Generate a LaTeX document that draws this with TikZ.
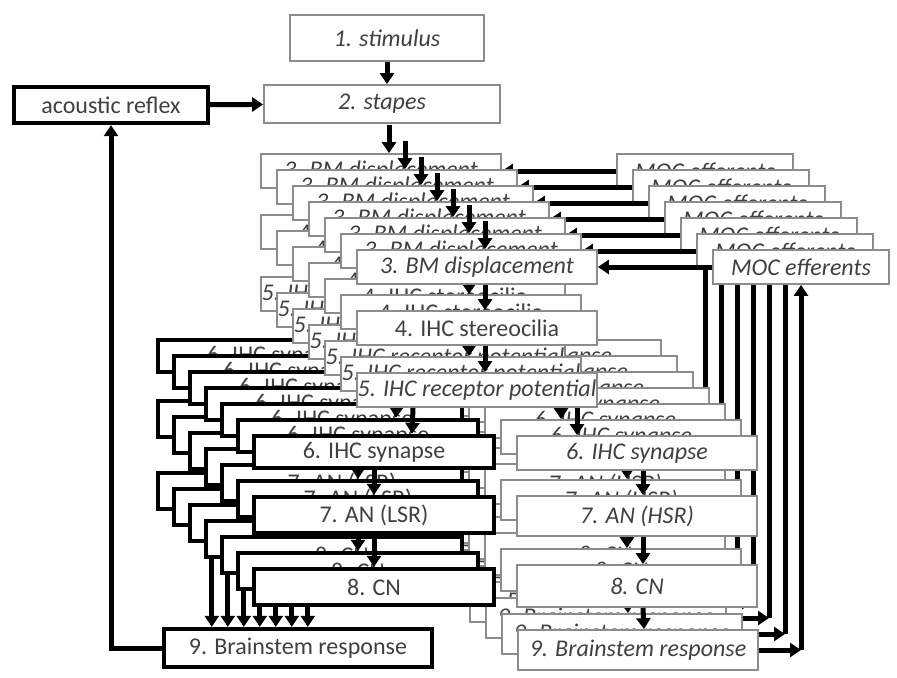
\documentclass[tikz,border=0pt]{standalone}
\usepackage{fontspec}
\setmainfont{Carlito}
\usetikzlibrary{arrows.meta, calc}
\newcommand{\boxfont}{\fontsize{12}{14}\selectfont}

\begin{document}
\begin{tikzpicture}[
    x=0.5pt, y=-0.5pt,
    gbox/.style={rectangle, draw=black!45, line width=0.9pt, fill=white, text=black!75, inner sep=0.5pt, minimum width=120pt, minimum height=17pt, font=\boxfont\itshape},
    kbox/.style={rectangle, draw=black, line width=2.2pt, fill=white, text=black!75, inner sep=0.5pt, minimum width=120pt, minimum height=16pt, font=\boxfont},
    arrow/.style={line width=2.5pt, -{Triangle[length=5.5pt, width=7pt]}}
]
\useasboundingbox (0,0) rectangle (897,677);

% Input and reflex loop
\node[gbox, minimum width=97pt, minimum height=23pt] (stim) at (387,38) {1. stimulus};
\node[gbox, minimum width=118pt, minimum height=19pt] (stapes) at (382,104) {2. stapes};
\node[kbox, minimum width=97pt, minimum height=18pt] (reflex) at (111,105) {acoustic reflex};
\node[kbox, minimum width=134pt, minimum height=19pt] (bl) at (298,648) {9. Brainstem response};

\draw[arrow] (stim.south) -- (stim.south |- stapes.north);
\draw[arrow] (reflex) -- (stapes);
\draw[arrow] (bl.west) -| (reflex.south);

% Channels, drawn back to front
\foreach \k in {0,...,6} {
  \pgfmathsetmacro{\o}{(6-\k)*16}
  \begin{scope}[shift={(-\o,-\o)}]
    % cochlea
    \node[gbox] (bm\k) at (477,267) {3. BM displacement};
    \node[gbox, font=\boxfont] (sc\k) at (477,328) {4. IHC stereocilia};
    \node[gbox] (rp\k) at (477,390) {5. IHC receptor potential};
    \node[gbox, minimum width=88pt] (moc\k) at (801,267) {MOC efferents};
    % HSR branch
    \node[gbox] (hs\k) at (637,453) {6. IHC synapse};
    \node[gbox, minimum height=20pt] (ha\k) at (637,516) {7. AN (HSR)};
    \node[gbox, minimum height=21pt] (hc\k) at (637,586) {8. CN};
    \node[gbox, minimum height=20pt] (hb\k) at (638,650) {9. Brainstem response};
    % LSR branch
    \node[kbox] (ls\k) at (374,452) {6. IHC synapse};
    \node[kbox, minimum height=18pt] (la\k) at (374,515) {7. AN (LSR)};
    \node[kbox, minimum height=18pt] (lc\k) at (374,587) {8. CN};
  \end{scope}
  % arrows of this channel
  \draw[arrow] ([xshift=4pt, yshift=14pt]bm\k.north) -- ([xshift=4pt]bm\k.north);
  \draw[arrow] ([xshift=4pt]bm\k.south) -- ([xshift=4pt]sc\k.north);
  \draw[arrow] ([xshift=4pt]sc\k.south) -- ([xshift=4pt]rp\k.north);
  \draw[arrow] ([xshift=-32pt]rp\k.south) -- ([xshift=19pt]ls\k.north);
  \draw[arrow] ([xshift=50pt]rp\k.south) -- ([xshift=-30pt]hs\k.north);
  \draw[arrow] (moc\k.west) -- (bm\k.east);
  \draw[arrow] ([xshift=3pt]hs\k.south) -- ([xshift=3pt]ha\k.north);
  \draw[arrow] ([xshift=3pt]ha\k.south) -- ([xshift=3pt]hc\k.north);
  \draw[arrow] ([xshift=3pt]hc\k.south) -- ([xshift=3pt]hb\k.north);
  \draw[arrow] (ls\k.south) -- (la\k.north);
  \draw[arrow] (la\k.south) -- (lc\k.north);
  \draw[arrow] (hb\k.east) -- (hb\k.east -| moc\k.south);
  \draw[arrow] (hb\k.east -| moc\k.south) -- (moc\k.south);
  \coordinate (t\k) at ([xshift=28pt]lc\k.south west);
  \draw[arrow] (t\k) -- (t\k |- bl.north);
}

\end{tikzpicture}
\end{document}
